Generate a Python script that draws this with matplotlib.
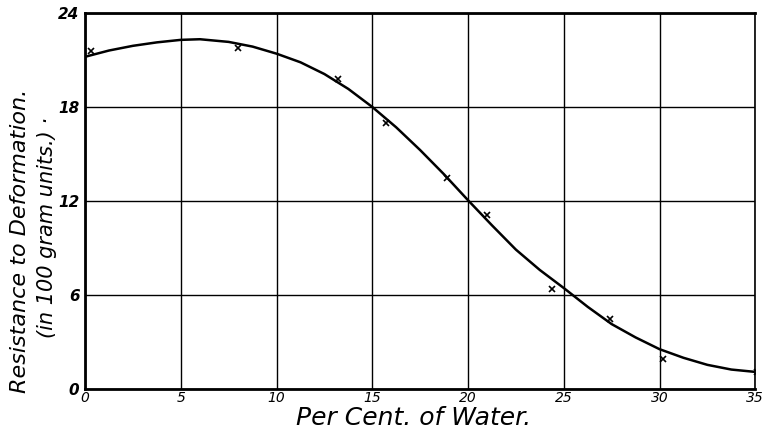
import matplotlib.pyplot as plt

# measured points (x marks)
water_pts = [0.3, 8.0, 13.2, 15.7, 18.9, 21.0, 24.4, 27.4, 30.2, 35.1]
resist_pts = [21.6, 21.75, 19.8, 17.0, 13.5, 11.1, 6.4, 4.45, 1.9, 1.1]

# smooth curve
curve_x = [0, 1.25, 2.5, 3.75, 5, 6, 7.5, 8.75, 10, 11.25, 12.5, 13.75, 15, 16.25, 17.5,
           18.75, 20, 21.25, 22.5, 23.75, 25, 26.25, 27.5, 28.75, 30, 31.25, 32.5, 33.75, 35]
curve_y = [21.2, 21.6, 21.9, 22.12, 22.28, 22.32, 22.15, 21.85, 21.4, 20.85, 20.1, 19.15, 18.0,
           16.7, 15.25, 13.7, 12.05, 10.45, 8.9, 7.6, 6.45, 5.25, 4.15, 3.3, 2.55, 2.0, 1.55, 1.25, 1.1]

xticks = [0, 5, 10, 15, 20, 25, 30, 35]
yticks = [0, 6, 12, 18, 24]

fig = plt.figure(figsize=(7.66, 4.30), dpi=100)
ax = fig.add_axes([0.111, 0.095, 0.875, 0.875])

ax.plot(curve_x, curve_y, color='black', lw=1.8)
ax.plot(water_pts, resist_pts, 'x', color='black', ms=5, mew=1.2)

ax.set_xlim(0, 35)
ax.set_ylim(0, 24)
ax.set_xticks(xticks)
ax.set_yticks(yticks)
ax.set_xticklabels([str(t) for t in xticks], fontstyle='italic', fontsize=10)
ax.set_yticklabels([str(t) for t in yticks], fontstyle='italic', fontsize=11, fontweight='bold')
ax.tick_params(axis='x', length=0, pad=1)
ax.tick_params(axis='y', length=0, pad=4)
ax.grid(True, color='black', lw=1.0)
for s in ax.spines.values():
    s.set_linewidth(2.0)
    s.set_color('black')
ax.spines['right'].set_linewidth(1.2)

fig.text(0.54, 0.0, "Per Cent. of Water.", ha='center', va='bottom',
         fontsize=18, fontstyle='italic')
fig.text(0.026, 0.44, "Resistance to Deformation.", rotation=90, ha='center', va='center',
         fontsize=16, fontstyle='italic')
fig.text(0.062, 0.47, "(in 100 gram units.) ·", rotation=90, ha='center', va='center',
         fontsize=15, fontstyle='italic')

fig.savefig('out.png', dpi=100)
